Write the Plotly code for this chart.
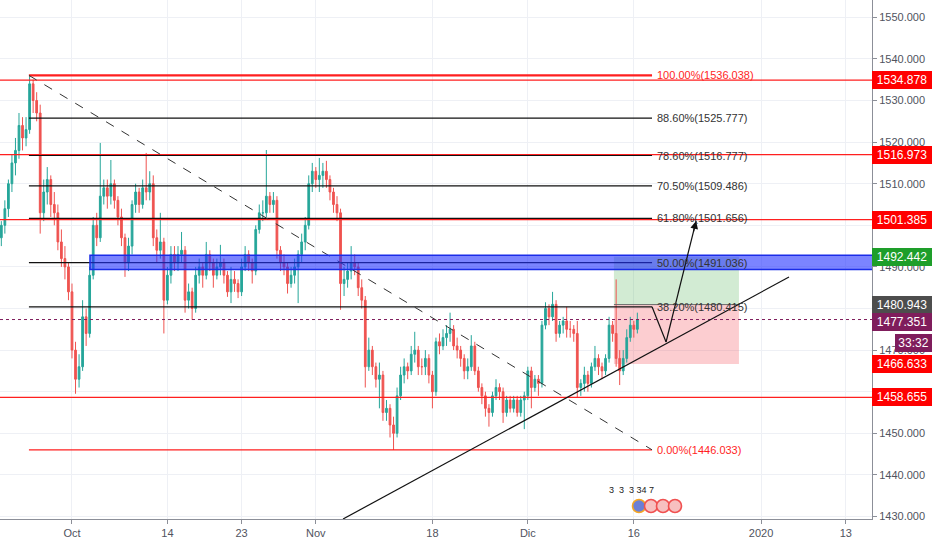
import pandas as pd
import plotly.graph_objects as go

# ---------------- data ----------------
# 8-hour candles, Sep 20 2019 08:00 -> Dec 16 2019 08:00 (weekdays, no Thanksgiving)
opens = [
    1497, 1500,
    1504, 1510, 1515,  1518, 1524, 1521,  1523, 1534, 1530,  1527, 1503, 1508,  1511, 1505, 1503,
    1496, 1492, 1490,
    1484, 1470, 1463,  1466, 1478, 1474,  1488, 1500, 1497,  1507, 1509, 1507,
    1510, 1506, 1502,  1497, 1491, 1495,  1505, 1508, 1505,  1509, 1508, 1510,  1497, 1494, 1496,
    1482, 1488, 1493,  1491, 1493, 1494,  1482, 1484, 1480,  1488, 1490, 1488,  1493, 1491, 1488,
    1490, 1491, 1488,  1484, 1487, 1486,  1484, 1490, 1493,  1491, 1489, 1499,  1503, 1503, 1507,
    1505, 1506, 1494,  1491, 1490, 1486,  1488, 1490, 1493,  1496, 1500, 1510,
    1513, 1511, 1512,
    1513, 1511, 1508,  1505, 1503, 1486,  1487, 1489, 1491,  1490, 1485, 1482,  1466, 1470, 1466,
    1463, 1464, 1455,  1456, 1452, 1450,  1459, 1464, 1466,  1465, 1469, 1470,  1466, 1466, 1468,
    1464, 1460, 1472,  1471, 1473, 1474,  1475, 1471, 1470,  1468, 1465, 1466,  1471, 1465, 1461,
    1459, 1456, 1455,  1459, 1461, 1460,  1455, 1458, 1456,  1458, 1455, 1458,
    1459, 1465, 1461,  1463, 1462, 1476,  1480, 1478, 1481,  1474, 1476, 1477,  1475, 1475, 1474,
    1461, 1462, 1464,  1462, 1466, 1468,  1466, 1465, 1468,  1476, 1474, 1468,  1465, 1468, 1473,
    1476, 1475,
]
highs = [
    1501, 1506,
    1511, 1517, 1521,  1527, 1526, 1526,  1536, 1535, 1532,  1529, 1511, 1514,  1512, 1508, 1505,
    1499, 1495, 1491,
    1486, 1472, 1469,  1482, 1480, 1490,  1502, 1503, 1519.8,  1511, 1511, 1515.7,
    1511, 1507, 1504,  1498, 1497, 1506,  1510, 1509, 1511,  1517.4, 1513, 1512,  1499, 1503, 1497,
    1490, 1495, 1495,  1495, 1498.4, 1495,  1486, 1485, 1490,  1492, 1491, 1496,  1494, 1492, 1492,
    1495.3, 1492, 1489,  1490, 1489, 1487,  1492, 1495, 1494,  1492, 1500, 1505,  1506, 1518.1, 1508,
    1508, 1507, 1495,  1493, 1491, 1490,  1492, 1494, 1498,  1502, 1512, 1515,
    1514, 1516.2, 1515,
    1515.5, 1512, 1509,  1507, 1504, 1490,  1491, 1495, 1493,  1491, 1487, 1483,  1473, 1471, 1467,
    1467, 1465, 1458,  1457, 1454, 1461,  1466, 1468, 1467,  1471, 1474.4, 1471,  1468, 1470, 1469,
    1465, 1473, 1474,  1475, 1476, 1479,  1476, 1473, 1471,  1469, 1468, 1473.6,  1472, 1466, 1462,
    1460, 1457, 1460,  1463, 1462, 1461,  1459, 1459, 1459,  1459, 1459, 1460,
    1466, 1466, 1464,  1464, 1477, 1481.5,  1481, 1484, 1482,  1477, 1478, 1480.4,  1477, 1476, 1477,
    1463, 1466, 1465,  1467, 1471, 1469,  1467, 1469, 1478,  1477, 1487, 1470,  1470, 1475, 1478,
    1477, 1479,
]
lows = [
    1495, 1498,
    1502, 1508, 1512,  1516, 1518, 1519,  1522, 1527, 1525,  1498, 1501, 1505,  1502, 1500, 1494,
    1490, 1487, 1482,
    1468, 1459.5, 1461,  1465, 1471, 1473,  1487, 1495, 1496,  1505, 1504, 1505,
    1504, 1500, 1495,  1487.6, 1489, 1493,  1503, 1503, 1504,  1506, 1506, 1495,  1491, 1492, 1474,
    1481, 1486, 1489,  1489, 1491, 1479,  1480, 1477.3, 1479,  1486, 1485, 1487,  1489, 1485, 1487,
    1488, 1486, 1482.8,  1481.3, 1484, 1482.5,  1483, 1489, 1489,  1486, 1488, 1498,  1501, 1502, 1503,
    1503, 1492, 1489,  1488, 1483.6, 1485,  1486, 1481.3, 1491,  1494, 1499, 1508,
    1509, 1508, 1509,
    1509, 1506, 1503,  1501, 1479.7, 1483,  1485, 1487, 1488,  1483, 1480, 1461,  1465, 1464, 1461,
    1456, 1453, 1453,  1449, 1446, 1449,  1458, 1462, 1463,  1464, 1467, 1464,  1464, 1464, 1462,
    1456, 1459, 1469,  1470, 1471, 1472,  1470, 1468, 1466,  1463, 1463, 1465,  1464, 1460, 1457,
    1454, 1451.6, 1454,  1458, 1458, 1452.5,  1454, 1455, 1455,  1454, 1454, 1451,
    1458, 1456, 1460,  1459, 1461, 1475,  1476, 1477, 1472,  1473, 1474, 1473,  1473, 1472, 1458.5,
    1459, 1460, 1460,  1461, 1465, 1464,  1463, 1464, 1467,  1472, 1466, 1461.6,  1464, 1467, 1472,
    1473, 1474,
]
closes = [
    1500, 1504,
    1510, 1515, 1518,  1524, 1521, 1523,  1534, 1530, 1527,  1503, 1508, 1511,  1505, 1503, 1496,
    1492, 1490, 1484,
    1470, 1463, 1466,  1478, 1474, 1488,  1500, 1497, 1507,  1509, 1507, 1510,
    1506, 1502, 1497,  1491, 1495, 1505,  1508, 1505, 1509,  1508, 1510, 1497,  1494, 1496, 1482,
    1488, 1493, 1491,  1493, 1494, 1482,  1484, 1480, 1488,  1490, 1488, 1493,  1491, 1488, 1490,
    1491, 1488, 1484,  1487, 1486, 1484,  1490, 1493, 1491,  1489, 1499, 1503,  1503, 1507, 1505,
    1506, 1494, 1491,  1490, 1486, 1488,  1490, 1493, 1496,  1500, 1510, 1513,
    1511, 1512, 1513,
    1511, 1508, 1505,  1503, 1486, 1487,  1489, 1491, 1490,  1485, 1482, 1466,  1470, 1466, 1463,
    1464, 1455, 1456,  1452, 1450, 1459,  1464, 1466, 1465,  1469, 1470, 1466,  1466, 1468, 1464,
    1460, 1472, 1471,  1473, 1474, 1475,  1471, 1470, 1468,  1465, 1466, 1471,  1465, 1461, 1459,
    1456, 1455, 1459,  1461, 1460, 1455,  1458, 1456, 1458,  1455, 1458, 1459,
    1465, 1461, 1463,  1462, 1476, 1480,  1478, 1481, 1474,  1476, 1477, 1475,  1475, 1474, 1461,
    1462, 1464, 1462,  1466, 1468, 1466,  1465, 1468, 1476,  1474, 1468, 1465,  1468, 1473, 1476,
    1475, 1477.351,
]

trade_days = [d for d in pd.bdate_range("2019-09-20", "2019-12-16")
              if d != pd.Timestamp("2019-11-28")]
times = [d + pd.Timedelta(hours=h) for d in trade_days for h in (0, 8, 16)][1:-1]

tick_dates = ["2019-10-01", "2019-10-14", "2019-10-23", "2019-11-01", "2019-11-18",
              "2019-12-02", "2019-12-16", "2020-01-01", "2020-01-13"]
tick_text = ["Oct", "14", "23", "Nov", "18", "Dic", "16", "2020", "13"]

# Fibonacci retracement drawing
fib_start, fib_end = "2019-09-24 22:30", "2019-12-17 17:15"
fib_pcts = ["0.00%", "38.20%", "50.00%", "61.80%", "70.50%", "78.60%", "88.60%", "100.00%"]
fib_prices = [1446.033, 1480.415, 1491.036, 1501.656, 1509.486, 1516.777, 1525.777, 1536.038]

# horizontal red levels
h_levels = [1534.878, 1516.973, 1501.385, 1458.655]

# blue zone
zone_start, zone_end = "2019-10-02 16:45", "2020-02-28"
zone_low, zone_high = 1489.4, 1492.8

# long position tool
pos_start, pos_end = "2019-12-12 03:00", "2019-12-27 22:00"
pos_entry, pos_stop, pos_target = 1480.943, 1466.633, 1492.442

# trend line
trend_x = ["2019-11-05 13:40", "2020-01-03 15:20"]
trend_y = [1429.40, 1487.57]

# arrow path (38.2% -> trend line -> 61.8%)
arrow_x = [fib_end, "2019-12-19 01:00", "2019-12-23 21:00"]
arrow_y = [1480.415, 1471.95, 1501.03]

last_price = 1477.351
countdown = "33:32"
events_text = "3  3  3 34 7"

# ---------------- styling ----------------
F = "Liberation Sans Narrow, Liberation Sans, Arial, sans-serif"
RED = "#ff1f1f"
GRID = "#eef0f5"
AXC = "#8c8f98"
TXT = "#50535e"
PURPLE = "#7f1d5c"
FS = 11

fig = go.Figure()
fig.add_trace(go.Candlestick(
    x=times, open=opens, high=highs, low=lows, close=closes,
    increasing=dict(line=dict(color="#26a69a", width=1), fillcolor="#26a69a"),
    decreasing=dict(line=dict(color="#ef5350", width=1), fillcolor="#ef5350"),
    whiskerwidth=0, hoverinfo="skip", showlegend=False,
))

shapes = []
# position boxes (between grid and candles)
shapes.append(dict(type="rect", xref="x", yref="y", x0=pos_start, x1=pos_end,
                   y0=pos_entry, y1=pos_target, fillcolor="rgba(76,175,80,0.25)",
                   line=dict(width=0), layer="between"))
shapes.append(dict(type="rect", xref="x", yref="y", x0=pos_start, x1=pos_end,
                   y0=pos_stop, y1=pos_entry, fillcolor="rgba(242,54,69,0.25)",
                   line=dict(width=0), layer="between"))
# red horizontal levels
for lv in h_levels:
    shapes.append(dict(type="line", xref="paper", x0=0, x1=1, yref="y", y0=lv, y1=lv,
                       line=dict(color=RED, width=1.3), layer="above"))
# last price dotted line
shapes.append(dict(type="line", xref="paper", x0=0, x1=1, yref="y", y0=last_price, y1=last_price,
                   line=dict(color=PURPLE, width=1, dash="dot"), layer="above"))
# fib lines
for pct, pr in zip(fib_pcts, fib_prices):
    col = RED if pct in ("0.00%", "100.00%") else "#111111"
    w = 2.2 if pct == "100.00%" else 1.2
    shapes.append(dict(type="line", xref="x", yref="y", x0=fib_start, x1=fib_end, y0=pr, y1=pr,
                       line=dict(color=col, width=w), layer="above"))
# fib diagonal
shapes.append(dict(type="line", xref="x", yref="y", x0=fib_start, x1=fib_end,
                   y0=fib_prices[-1], y1=fib_prices[0],
                   line=dict(color="#333333", width=1, dash="dash"), layer="above"))
# blue zone
shapes.append(dict(type="rect", xref="x", yref="y", x0=zone_start, x1=zone_end,
                   y0=zone_low, y1=zone_high, fillcolor="rgba(35,50,255,0.6)",
                   line=dict(color="#1a2ce8", width=1.5), layer="above"))
# entry line of position
shapes.append(dict(type="line", xref="x", yref="y", x0=pos_start, x1=pos_end,
                   y0=pos_entry, y1=pos_entry, line=dict(color="#6b6b6b", width=1), layer="above"))
# trend line
shapes.append(dict(type="line", xref="x", yref="y", x0=trend_x[0], x1=trend_x[1],
                   y0=trend_y[0], y1=trend_y[1], line=dict(color="#111111", width=1.2), layer="above"))
# arrow arms
for i in range(2):
    shapes.append(dict(type="line", xref="x", yref="y", x0=arrow_x[i], x1=arrow_x[i + 1],
                       y0=arrow_y[i], y1=arrow_y[i + 1],
                       line=dict(color="#111111", width=1.2), layer="above"))

# event icons (paper coords of plot area 872x519)
PW, PH = 872.0, 519.0
for i, cx in enumerate([639, 651, 663, 675]):
    r = 6.5
    shapes.append(dict(type="circle", xref="paper", yref="paper",
                       x0=(cx - r) / PW, x1=(cx + r) / PW,
                       y0=1 - (506 + r) / PH, y1=1 - (506 - r) / PH,
                       fillcolor="#6b7fd6" if i == 0 else "#f7c0c0",
                       line=dict(color="#f5a623" if i == 0 else "#f05050", width=1.6),
                       layer="above"))

annotations = []
# arrow head at end
annotations.append(dict(x=arrow_x[2], y=arrow_y[2], xref="x", yref="y", text="",
                        showarrow=True, arrowhead=2, arrowsize=1.3, arrowwidth=1.2,
                        arrowcolor="#111111", ax=-3, ay=12, standoff=0))
# fib labels
for pct, pr in zip(fib_pcts, fib_prices):
    col = RED if pct in ("0.00%", "100.00%") else "#333333"
    annotations.append(dict(x=fib_end, y=pr, xref="x", yref="y", xanchor="left", yanchor="middle",
                            xshift=3, text=f"{pct}({pr:.3f})", showarrow=False,
                            font=dict(family=F, size=FS, color=col)))
# events text
annotations.append(dict(x=656 / PW, y=1 - 497 / PH, xref="paper", yref="paper", text=events_text,
                        showarrow=False, font=dict(family=F, size=9, color="#222222")))


def price_tag(y, text, bg, width=58, shift=0):
    return dict(x=1, xref="paper", xanchor="left", xshift=shift, y=y, yref="y", yanchor="middle",
                text=text, showarrow=False, bgcolor=bg, borderwidth=0, borderpad=1,
                width=width, height=16, align="center",
                font=dict(family=F, size=12, color="white"))


for lv in h_levels:
    annotations.append(price_tag(lv, f"{lv:.3f}", "#ff0000"))
annotations.append(price_tag(pos_target, f"{pos_target:.3f}", "#1e9e2a"))
annotations.append(price_tag(pos_entry, f"{pos_entry:.3f}", "#4d4d4d"))
annotations.append(price_tag(pos_stop, f"{pos_stop:.3f}", "#ff0000"))
annotations.append(price_tag(last_price - 0.6, f"{last_price:.3f}", PURPLE))
annotations.append(price_tag(last_price - 5.65, countdown, PURPLE, width=35, shift=23))

fig.update_layout(
    width=932, height=550,
    margin=dict(l=0, r=60, t=0, b=31),
    paper_bgcolor="white", plot_bgcolor="white",
    showlegend=False,
    shapes=shapes, annotations=annotations,
    xaxis=dict(
        type="date",
        range=["2019-09-20 05:00", "2020-01-15 11:15"],
        rangebreaks=[dict(bounds=["sat", "mon"]), dict(values=["2019-11-28"])],
        rangeslider=dict(visible=False),
        tickvals=tick_dates, ticktext=tick_text,
        showgrid=True, gridcolor=GRID, gridwidth=1,
        ticks="outside", ticklen=4, tickcolor=AXC,
        showline=True, linecolor=AXC, linewidth=1,
        tickfont=dict(family=F, size=FS, color=TXT),
        zeroline=False, automargin=False,
    ),
    yaxis=dict(
        side="right",
        range=[1429.40, 1554.16],
        tick0=1430, dtick=10, tickformat=".3f",
        showgrid=True, gridcolor=GRID, gridwidth=1,
        ticks="outside", ticklen=4, tickcolor=AXC,
        showline=True, linecolor=AXC, linewidth=1,
        tickfont=dict(family=F, size=FS, color=TXT),
        zeroline=False, automargin=False,
    ),
)

fig.write_html("out.html", config={"displayModeBar": False},
               post_script="document.body.style.margin='0px';")
